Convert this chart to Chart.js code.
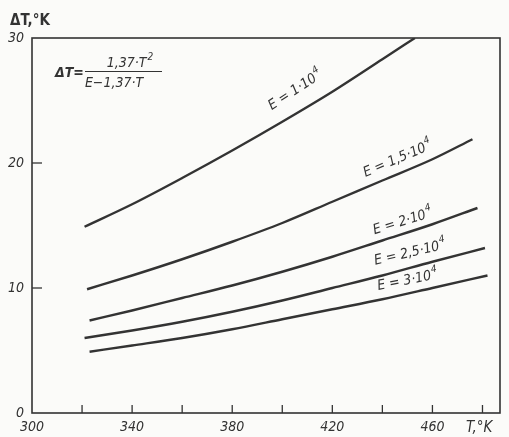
<!DOCTYPE html>
<html>
<head>
<meta charset="utf-8">
<script src="https://cdn.jsdelivr.net/npm/chart.js@4"></script>
<style>
  html, body { margin: 0; padding: 0; background: #fbfbf9; }
  #wrap { width: 509px; height: 437px; }
</style>
</head>
<body>
<div id="wrap"><canvas id="myChart"></canvas></div>
<script>
// values (T in K, dT in K)
const t_e10 = [321, 340, 360, 380, 400, 420, 440, 453];
const dT_e10 = [14.9, 16.7, 18.8, 21.0, 23.3, 25.7, 28.3, 30.0];

const t_e15 = [322, 340, 360, 380, 400, 420, 440, 460, 476];
const dT_e15 = [9.9, 11.0, 12.3, 13.7, 15.2, 16.9, 18.6, 20.3, 21.9];

const t_e20 = [323, 340, 360, 380, 400, 420, 440, 460, 478];
const dT_e20 = [7.4, 8.2, 9.2, 10.2, 11.3, 12.5, 13.8, 15.1, 16.4];

const t_e25 = [321, 340, 360, 380, 400, 420, 440, 460, 481];
const dT_e25 = [6.0, 6.6, 7.3, 8.1, 9.0, 10.0, 11.0, 12.1, 13.2];

const t_e30 = [323, 340, 360, 380, 400, 420, 440, 460, 482];
const dT_e30 = [4.9, 5.4, 6.0, 6.7, 7.5, 8.3, 9.1, 10.0, 11.0];

const curveNames = ['1', '1,5', '2', '2,5', '3'];
const xTicks = [300, 340, 380, 420, 460];
const yTicks = [0, 10, 20, 30];

const INK = '#333333';
const FONT = '"DejaVu Sans Condensed", "Liberation Sans Narrow", sans-serif';

function toPoints(ts, ys) {
    return ts.map((t, i) => ({ x: t, y: ys[i] }));
}

function curve(ts, ys) {
    return {
        data: toPoints(ts, ys),
        showLine: true,
        borderColor: INK,
        borderWidth: 2.4,
        pointRadius: 0,
        cubicInterpolationMode: 'monotone',
        fill: false
    };
}

// text with a small raised exponent, drawn from x (left), baseline y
function supText(ctx, base, sup, x, y, size) {
    ctx.font = 'italic ' + size + 'px ' + FONT;
    ctx.fillText(base, x, y);
    const w = ctx.measureText(base).width;
    ctx.font = 'italic ' + Math.round(size * 0.7) + 'px ' + FONT;
    ctx.fillText(sup, x + w + 1, y - size * 0.5);
}

function supWidth(ctx, base, sup, size) {
    ctx.font = 'italic ' + size + 'px ' + FONT;
    const w = ctx.measureText(base).width;
    ctx.font = 'italic ' + Math.round(size * 0.7) + 'px ' + FONT;
    return w + 1 + ctx.measureText(sup).width;
}

// curve labels: where they sit (data coords) and their tilt
const curveLabels = [
    { t: 405, v: 25.9, angle: -33 },
    { t: 446, v: 20.4, angle: -23 },
    { t: 448, v: 15.4, angle: -17 },
    { t: 451, v: 12.9, angle: -13 },
    { t: 450, v: 10.7, angle: -11 }
];

const paperPlugin = {
    id: 'paper',
    afterDraw(chart) {
        const ctx = chart.ctx;
        const a = chart.chartArea;
        const xs = chart.scales.x;
        const ys = chart.scales.y;

        ctx.save();
        ctx.strokeStyle = INK;
        ctx.fillStyle = INK;

        // frame
        ctx.lineWidth = 1.6;
        ctx.strokeRect(a.left, a.top, a.right - a.left, a.bottom - a.top);

        // inward ticks
        ctx.lineWidth = 1.3;
        xs.ticks.forEach(tk => {
            if (tk.value <= xs.min) return;
            const px = xs.getPixelForValue(tk.value);
            ctx.beginPath();
            ctx.moveTo(px, a.bottom);
            ctx.lineTo(px, a.bottom - 8);
            ctx.stroke();
        });
        ys.ticks.forEach(tk => {
            if (tk.value <= ys.min || tk.value >= ys.max) return;
            const py = ys.getPixelForValue(tk.value);
            ctx.beginPath();
            ctx.moveTo(a.left, py);
            ctx.lineTo(a.left + 10, py);
            ctx.stroke();
        });

        // axis titles
        ctx.textAlign = 'left';
        ctx.textBaseline = 'alphabetic';
        ctx.font = 'bold 15px ' + FONT;
        ctx.fillText('\u0394T,\u00b0K', 10, 25);
        ctx.font = 'italic 15px ' + FONT;
        ctx.fillText('T,\u00b0K', 466, 432);

        // formula
        ctx.font = 'italic bold 14px ' + FONT;
        ctx.fillText('\u0394T=', 55, 77);
        ctx.lineWidth = 1;
        ctx.beginPath();
        ctx.moveTo(85, 71.5);
        ctx.lineTo(162, 71.5);
        ctx.stroke();
        const nw = supWidth(ctx, '1,37\u00b7T', '2', 14);
        supText(ctx, '1,37\u00b7T', '2', 130 - nw / 2, 67, 14);
        ctx.font = 'italic 14px ' + FONT;
        ctx.textAlign = 'center';
        ctx.fillText('E\u22121,37\u00b7T', 114, 87);

        // curve labels
        curveLabels.forEach((lb, i) => {
            const px = xs.getPixelForValue(lb.t);
            const py = ys.getPixelForValue(lb.v);
            const base = 'E = ' + curveNames[i] + '\u00b710';
            ctx.save();
            ctx.translate(px, py);
            ctx.rotate(lb.angle * Math.PI / 180);
            ctx.textAlign = 'left';
            const w = supWidth(ctx, base, '4', 14);
            supText(ctx, base, '4', -w / 2, 5, 14);
            ctx.restore();
        });

        ctx.restore();
    }
};

const myChart_ctx = document.getElementById('myChart').getContext('2d');

new Chart(myChart_ctx, {
    type: 'scatter',
    data: {
        datasets: [
            curve(t_e10, dT_e10),
            curve(t_e15, dT_e15),
            curve(t_e20, dT_e20),
            curve(t_e25, dT_e25),
            curve(t_e30, dT_e30)
        ]
    },
    options: {
        responsive: true,
        maintainAspectRatio: false,
        animation: false,
        layout: {
            padding: { top: 38, right: 9, left: 0, bottom: 0 }
        },
        plugins: {
            legend: { display: false },
            tooltip: { enabled: false }
        },
        scales: {
            x: {
                type: 'linear',
                min: 300,
                max: 487,
                afterFit(s) { s.height = 24; },
                grid: { display: false, drawTicks: false },
                border: { display: false },
                ticks: {
                    stepSize: 20,
                    includeBounds: false,
                    autoSkip: false,
                    maxRotation: 0,
                    padding: 6,
                    color: INK,
                    font: { family: FONT, size: 14, style: 'italic' },
                    callback: v => xTicks.includes(v) ? String(v) : ''
                }
            },
            y: {
                type: 'linear',
                min: 0,
                max: 30,
                afterFit(s) { s.width = 32; },
                grid: { display: false, drawTicks: false },
                border: { display: false },
                ticks: {
                    stepSize: 10,
                    padding: 8,
                    color: INK,
                    font: { family: FONT, size: 14, style: 'italic' },
                    callback: v => yTicks.includes(v) ? String(v) : ''
                }
            }
        }
    },
    plugins: [paperPlugin]
});
</script>
</body>
</html>
